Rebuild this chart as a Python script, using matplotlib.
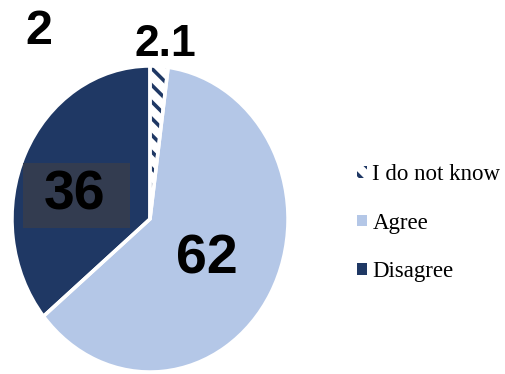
import matplotlib
matplotlib.use("Agg")
import matplotlib.pyplot as plt
from matplotlib.patches import Patch, Rectangle

categories = ["I do not know", "Agree", "Disagree"]
values = [2.1, 62, 36]
value_labels = ["2.1", "62", "36"]
panel_label = "2"

navy = "#1f3864"
light = "#b4c7e7"
W, H = 506, 374

plt.rcParams["hatch.linewidth"] = 2.6

fig = plt.figure(figsize=(W / 100, H / 100), dpi=100)
ax = fig.add_axes([12 / W, 2 / H, 276 / W, 306 / H])

wedges, _ = ax.pie(values, startangle=90, counterclock=False,
                   colors=["white", light, navy],
                   wedgeprops=dict(linewidth=0))
wedges[0].set_hatch("\\\\")
wedges[0].set_edgecolor(navy)
# white separators on top
ax.pie(values, startangle=90, counterclock=False,
       wedgeprops=dict(fill=False, edgecolor="white", linewidth=2.5))
ax.set_aspect("auto")
ax.set_xlim(-1, 1)
ax.set_ylim(-1, 1)

def px(x, y):
    return x / W, 1 - y / H

fig.text(*px(39, 32), panel_label, fontsize=35, fontweight="bold",
         family="Liberation Sans", ha="center", va="center")
fig.text(*px(165, 44), value_labels[0], fontsize=32, fontweight="bold",
         family="Liberation Sans", ha="center", va="center")
fig.text(*px(207, 260), value_labels[1], fontsize=40, fontweight="bold",
         family="Liberation Sans", ha="center", va="center")
fig.patches.append(Rectangle(px(23, 228), 107 / W, 65 / H,
                             transform=fig.transFigure, facecolor="#333c50",
                             edgecolor="none", zorder=2))
fig.text(*px(75, 196), value_labels[2], fontsize=40, fontweight="bold",
         family="Liberation Sans", ha="center", va="center", zorder=3)

handles = [Patch(facecolor="white", edgecolor=navy, hatch="\\\\", linewidth=0),
           Patch(facecolor=light, edgecolor="none"),
           Patch(facecolor=navy, edgecolor="none")]
fig.legend(handles, categories, loc="center left",
           bbox_to_anchor=(346 / W, 1 - 223 / H), frameon=False,
           prop=dict(family="Liberation Serif", size=16.5),
           handlelength=0.4, handleheight=0.4, handletextpad=0.25,
           labelspacing=1.2, borderpad=0)

fig.savefig("out.png", dpi=100)
